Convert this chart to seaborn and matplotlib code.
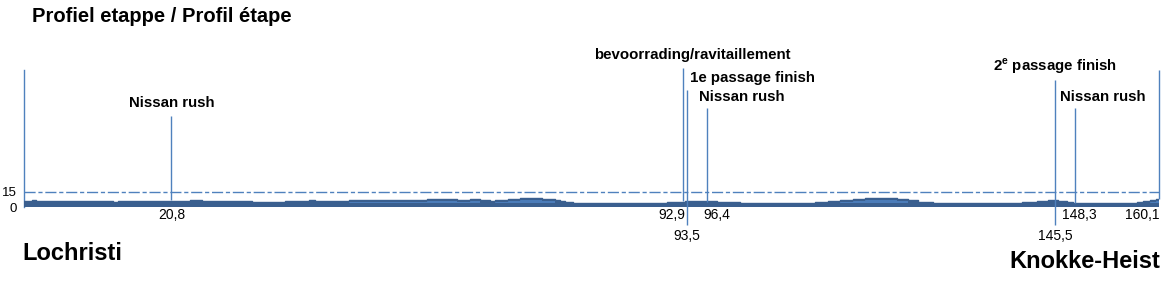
import numpy as np
import matplotlib
matplotlib.use("Agg")
import matplotlib.pyplot as plt
import seaborn as sns

# ---------------- data ----------------
title = "Profiel etappe / Profil étape"
start_name = "Lochristi"
finish_name = "Knokke-Heist"

# elevation profile (km, m) (step profile)
profile_km = [0.0, 1.1, 1.7, 12.6, 13.3, 23.4, 25.1, 32.2, 36.8, 40.2, 41.0, 45.8,
              56.8, 61.1, 62.9, 64.3, 65.7, 66.4, 68.3, 70.0, 73.1, 74.9, 75.6, 76.3,
              77.4, 90.7, 93.2, 97.8, 101.0, 111.6, 113.4, 115.1, 116.9, 118.6, 123.1,
              124.7, 126.1, 128.2, 140.8, 142.9, 144.4, 145.9, 147.1, 148.0, 157.0,
              157.8, 158.8, 159.7, 160.1]
profile_elev = [6, 7, 6, 5, 6, 7, 6, 5, 6, 7, 6, 7,
                8, 7, 8, 7, 6, 7, 8, 9, 8, 7, 6, 5,
                4, 5, 6, 5, 4, 5, 6, 7, 8, 9, 8,
                7, 5, 4, 5, 6, 7, 6, 5, 4, 5,
                6, 7, 8, 8]

ref_level = 15
ytick_values = [0, 15]
ytick_labels = ["0", "15"]

# markers along the route
marker_km = [20.8, 92.9, 93.5, 96.4, 145.5, 148.3, 160.1]
marker_km_labels = ["20,8", "92,9", "93,5", "96,4", "145,5", "148,3", "160,1"]
marker_names = ["Nissan rush", "bevoorrading/ravitaillement", "1e passage finish",
                "Nissan rush", r"2$^{\mathbf{e}}$ passage finish", "Nissan rush", ""]

# ---------------- style ----------------
sns.set_theme(style="white")
plt.rcParams["font.family"] = ["Liberation Sans", "DejaVu Sans"]
plt.rcParams["mathtext.fontset"] = "custom"
plt.rcParams["mathtext.bf"] = "Liberation Sans:bold"
plt.rcParams["mathtext.rm"] = "Liberation Sans"

dark = "#3a5f8f"
light = "#4b7cb9"
line_blue = "#4f81bd"

fig = plt.figure(figsize=(11.71, 2.94), dpi=100)
ax = fig.add_axes([24 / 1171, 87 / 294, 1135 / 1171, 137 / 294])
ax.set_xlim(0, 160.1)
ax.set_ylim(0, 137)

km = np.array(profile_km)
el = np.array(profile_elev, dtype=float)

# profile area
ax.fill_between(km, 0, el, step="post", color=dark, lw=0, zorder=3)
inner_top = el - 2
ax.fill_between(km, 4, inner_top, where=inner_top > 4, step="post",
                color=light, lw=0, zorder=4)
sns.lineplot(x=km, y=el, drawstyle="steps-post", color=dark, lw=1, ax=ax, zorder=5)

# reference line at 15
ax.axhline(ref_level, color=line_blue, lw=1, ls=(0, (8, 2, 3, 2)), zorder=2)

# spines
for s in ["top", "right", "bottom"]:
    ax.spines[s].set_visible(False)
ax.spines["left"].set_color(line_blue)
ax.spines["left"].set_linewidth(1)

ax.set_xticks([])
ax.set_yticks(ytick_values)
ax.set_yticklabels(ytick_labels, fontsize=9.5, color="#000000")
ax.tick_params(axis="y", length=0, pad=5)
ax.grid(False)

# marker lines, labels and km labels
line_top = [91, 139, 117, 99, 127, 99, 137]
line_bottom_ext = [None, None, -18, None, -18, None, None]
name_y = [104, 152, 129, 110, 141, 110, None]
name_ha = ["center", "center", "left", "left", "center", "left", None]
name_dx = [0, 7, 2, -6, 0, -11, 0]
km_row = [0, 0, 1, 0, 1, 0, 0]
km_ha = ["center", "right", "center", "left", "center", "center", "right"]
km_dx = [0, 2, 0, -3, 0, 3, 0]

for i, x in enumerate(marker_km):
    base = float(np.interp(x, km, el))
    bottom = line_bottom_ext[i] if line_bottom_ext[i] is not None else base
    ax.vlines(x, bottom, line_top[i], color=line_blue, lw=1, zorder=6, clip_on=False)
    if marker_names[i]:
        ax.annotate(marker_names[i], xy=(x, name_y[i]), xytext=(name_dx[i], 0),
                    textcoords="offset points", ha=name_ha[i], va="center",
                    fontsize=10.8, fontweight="bold", color="#000000",
                    annotation_clip=False)
    ky = -8 if km_row[i] == 0 else -29
    ax.annotate(marker_km_labels[i], xy=(x, ky), xytext=(km_dx[i], 0),
                textcoords="offset points", ha=km_ha[i], va="center",
                fontsize=10, color="#000000", annotation_clip=False)

# texts
fig.text(32 / 1171, 1 - 17 / 294, title, ha="left", va="center",
         fontsize=14.5, fontweight="bold", color="#000000")
fig.text(22 / 1171, 1 - 254 / 294, start_name, ha="left", va="center",
         fontsize=17, fontweight="bold", color="#000000")
fig.text(1160 / 1171, 1 - 262 / 294, finish_name, ha="right", va="center",
         fontsize=17, fontweight="bold", color="#000000")

fig.savefig("out.png", dpi=100, facecolor="white")
